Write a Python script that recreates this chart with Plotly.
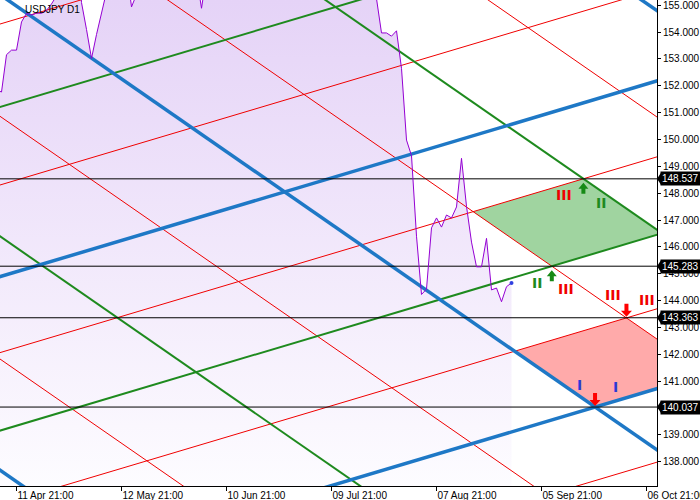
import plotly.graph_objects as go

# ---------------- data ----------------
first_bar = -4
closes = [
    151.85, 151.77, 153.16, 153.33,            # -4 .. -1
    153.33, 154.38, 154.70, 154.64, 154.71, 154.70, 154.81, 155.05, 155.35, 155.62,   # 0..9
    158.33, 156.36, 157.79, 155.10, 154.10, 153.02, 153.91, 154.71, 155.50, 155.48,   # 10..19
    155.78, 156.20, 156.43, 154.94, 155.40, 155.67, 156.25, 156.17, 156.78, 156.96,   # 20..29
    156.99, 156.87, 157.15, 157.61, 156.83, 157.26, 156.10, 154.89, 156.10, 155.60,   # 30..39
    156.75, 157.04, 157.13, 156.70, 157.05, 157.40, 157.70, 157.85, 158.10, 158.90,   # 40..49
    159.80, 159.70, 159.70, 160.80, 160.80, 160.88, 161.45, 161.45, 161.70, 161.20,   # 50..59
    160.70, 160.80, 161.30, 161.70, 158.90, 157.80, 158.05, 158.30, 156.20, 157.40,   # 60..69
    157.50, 157.00, 155.25, 153.97, 153.97, 153.85, 154.05, 152.65, 149.98, 149.40,   # 70..79
    146.40, 144.23, 144.43, 146.71, 147.08, 146.74, 147.19, 147.08, 147.49, 149.30,   # 80..89
    147.51, 146.18, 145.26, 145.26, 146.32, 144.40, 144.47, 143.96, 144.52, 144.66,   # 90..99
]
bars = list(range(first_bar, first_bar + len(closes)))

tick_bars = [0, 21, 42, 63, 84, 105, 126]
tick_text = ["11 Apr 21:00", "12 May 21:00", "10 Jun 21:00", "09 Jul 21:00",
             "07 Aug 21:00", "05 Sep 21:00", "06 Oct 21:00"]
price_ticks = list(range(138, 156))

# grid lines: price at bar 0, common slopes (price per bar)
desc_slope = -0.12905
asc_slope = 0.05549
red_desc = [167.37, 159.10, 150.44, 141.40]
green_desc = [163.17, 145.97]
blue_desc = [171.33, 154.97, 137.26]
red_asc = [154.485, 148.49, 142.247, 136.588, 130.876]
green_asc = [151.395, 139.343]
blue_asc = [145.075, 133.617]
levels = [148.537, 145.283, 143.363, 140.037]

# ---------------- helpers ----------------
X_MIN, X_MAX = -3.3, 128.1
Y_MIN, Y_MAX = 137.097, 155.197
XL = [-20, 150]


def line_pts(p0, slope):
    return XL, [p0 + slope * x for x in XL]


def cross(a0, d0):
    i = (d0 - a0) / (asc_slope - desc_slope)
    return i, a0 + asc_slope * i


fig = go.Figure()

# price area with vertical gradient
fig.add_trace(go.Scatter(
    x=bars, y=closes, mode="lines", line=dict(width=0), fill="tozeroy",
    fillgradient=dict(type="vertical",
                      colorscale=[[0, "rgb(253,252,255)"], [1, "rgb(229,211,247)"]],
                      start=Y_MIN, stop=Y_MAX),
    hoverinfo="skip", showlegend=False))

# zones
g_poly = [cross(red_asc[2], red_desc[1]), cross(red_asc[2], green_desc[0]),
          cross(green_asc[1], green_desc[0]), cross(green_asc[1], red_desc[1])]
r_poly = [cross(red_asc[3], blue_desc[1]), cross(red_asc[3], red_desc[1]),
          cross(blue_asc[1], red_desc[1]), cross(blue_asc[1], blue_desc[1])]
for poly, col in [(g_poly, "rgb(160,212,160)"), (r_poly, "rgb(255,170,170)")]:
    fig.add_trace(go.Scatter(
        x=[p[0] for p in poly] + [poly[0][0]], y=[p[1] for p in poly] + [poly[0][1]],
        mode="lines", line=dict(width=0), fill="toself", fillcolor=col,
        hoverinfo="skip", showlegend=False))

RED, GREEN, BLUE = "#F00000", "#1E8A1E", "#1E78C6"
for group, slope, col, w in [
    (red_desc, desc_slope, RED, 1), (red_asc, asc_slope, RED, 1),
    (green_desc, desc_slope, GREEN, 2), (green_asc, asc_slope, GREEN, 2),
    (blue_desc, desc_slope, BLUE, 3.5), (blue_asc, asc_slope, BLUE, 3.5)]:
    for p0 in group:
        xs, ys = line_pts(p0, slope)
        fig.add_trace(go.Scatter(x=xs, y=ys, mode="lines", line=dict(color=col, width=w),
                                 hoverinfo="skip", showlegend=False))

# horizontal levels
for lv in levels:
    fig.add_trace(go.Scatter(x=XL, y=[lv, lv], mode="lines", line=dict(color="black", width=1),
                             hoverinfo="skip", showlegend=False))

# price line
fig.add_trace(go.Scatter(x=bars, y=closes, mode="lines", line=dict(color="#9400D3", width=1),
                         hoverinfo="skip", showlegend=False))
fig.add_trace(go.Scatter(x=[bars[-1]], y=[closes[-1]], mode="markers",
                         marker=dict(color="#3040E0", size=4), hoverinfo="skip", showlegend=False))

# arrows
up_path = "M0,-4 L5,-10 L2,-10 L2,-15 L-2,-15 L-2,-10 L-5,-10 Z"
down_path = "M0,1 L5.5,7 L2,7 L2,14 L-2,14 L-2,7 L-5.5,7 Z"
arrows = [
    (cross(red_asc[2], green_desc[0])[0], levels[0], up_path, "#168A16"),
    (cross(green_asc[1], red_desc[1])[0], levels[1], up_path, "#168A16"),
    (cross(red_asc[3], red_desc[1])[0], levels[2], down_path, "#FF0000"),
    (cross(blue_asc[1], blue_desc[1])[0], levels[3], down_path, "#FF0000"),
]
for ax_, ay_, path, col in arrows:
    fig.add_shape(type="path", xref="x", yref="y", xsizemode="pixel", ysizemode="pixel",
                  xanchor=ax_, yanchor=ay_, path=path, fillcolor=col, line=dict(width=0),
                  layer="above")

# wave labels
labels = [
    (109.4, 147.93, "III", RED), (116.9, 147.63, "II", GREEN),
    (104.1, 144.66, "II", GREEN), (109.9, 144.45, "III", RED),
    (119.2, 144.21, "III", RED), (126.1, 144.02, "III", RED),
    (112.5, 140.86, "I", "#2A3AD4"), (119.7, 140.79, "I", "#2A3AD4"),
]
for lx, ly, t, c in labels:
    fig.add_annotation(x=lx, y=ly, text=f"<b>{t}</b>", showarrow=False,
                       font=dict(family="DejaVu Sans, Liberation Sans", size=14, color=c))

# price labels on axis
for lv in levels:
    fig.add_shape(type="path", xref="paper", yref="y", xsizemode="pixel", ysizemode="pixel",
                  xanchor=1, yanchor=lv, path="M0,0 L4,6 L4,-6 Z", fillcolor="black",
                  line=dict(width=0), layer="above")
    fig.add_annotation(xref="paper", x=1, y=lv, yref="y", text=f"{lv:.3f}", showarrow=False,
                       xanchor="left", xshift=3, bgcolor="black", borderpad=1,
                       font=dict(family="Liberation Sans, Arial", size=10, color="white"))

fig.add_annotation(xref="paper", yref="paper", x=23 / 657, y=1, xanchor="left", yanchor="top",
                   yshift=-2, text="USDJPY D1", showarrow=False,
                   font=dict(family="Liberation Sans, Arial", size=10, color="black"))

fig.update_layout(
    width=700, height=500, margin=dict(l=0, r=43, t=0, b=14),
    paper_bgcolor="white", plot_bgcolor="white", showlegend=False,
    font=dict(family="Liberation Sans, Arial", size=10, color="black"),
    xaxis=dict(range=[X_MIN, X_MAX], tickvals=tick_bars, ticktext=tick_text,
               showgrid=False, zeroline=False, showline=True, linecolor="black", linewidth=1,
               ticks="outside", ticklen=4, tickcolor="black",
               ticklabelposition="outside right", ticklabeloverflow="allow",
               automargin=False, tickfont=dict(size=10)),
    yaxis=dict(range=[Y_MIN, Y_MAX], side="right", tickvals=price_ticks,
               ticktext=[f"{v:.3f}" for v in price_ticks],
               showgrid=False, zeroline=False, showline=True, linecolor="black", linewidth=1,
               ticks="outside", ticklen=3, tickcolor="black", automargin=False,
               ticklabeloverflow="allow", tickfont=dict(size=10)),
)

fig.write_html("out.html", config={"displayModeBar": False},
               post_script="document.body.style.margin='0';")
